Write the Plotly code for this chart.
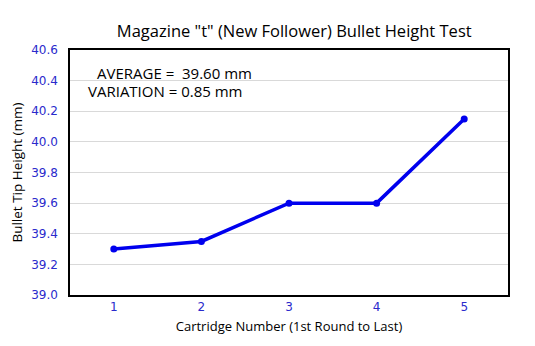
import plotly.graph_objects as go

cartridges = [1, 2, 3, 4, 5]
heights = [39.30, 39.35, 39.60, 39.60, 40.15]
y_ticks = [39.0, 39.2, 39.4, 39.6, 39.8, 40.0, 40.2, 40.4, 40.6]
x_ticks = ["1", "2", "3", "4", "5"]

blue = "#0000EE"
tick_blue = "#2A2ACC"
font = "Open Sans"

fig = go.Figure()
fig.add_trace(go.Scatter(
    x=cartridges, y=heights, mode="lines+markers",
    line=dict(color=blue, width=3.5),
    marker=dict(color=blue, size=7),
    showlegend=False,
))

fig.update_layout(
    width=535, height=346,
    margin=dict(l=70, r=27, t=50, b=51),
    paper_bgcolor="white", plot_bgcolor="white",
    title=dict(text='Magazine "t" (New Follower) Bullet Height Test',
               x=0.55, xanchor="center", y=0.91, yanchor="middle",
               font=dict(family=font, size=16.5, color="black")),
    xaxis=dict(range=[0.5, 5.5], tickvals=cartridges, ticktext=x_ticks,
               automargin=False,
               showgrid=False, zeroline=False, showline=True, mirror=True,
               linecolor="black", linewidth=1.5, ticks="",
               tickfont=dict(family="DejaVu Sans", size=12, color=tick_blue),
               title=dict(text="Cartridge Number (1st Round to Last)",
                          font=dict(family=font, size=13, color="black"),
                          standoff=9)),
    yaxis=dict(range=[39.0, 40.6], tickvals=y_ticks,
               ticktext=[f"{v:.1f}" for v in y_ticks],
               automargin=False,
               showgrid=True, gridcolor="#D9D9D9", gridwidth=1, zeroline=False,
               showline=True, mirror=True, linecolor="black", linewidth=1.5, ticks="",
               tickfont=dict(family="DejaVu Sans", size=12, color=tick_blue),
               ticklabelstandoff=8,
               title=dict(text="Bullet Tip Height (mm)",
                          font=dict(family=font, size=13.5, color="black"),
                          standoff=5)),
)

fig.add_annotation(xref="paper", yref="paper", x=0.058, y=0.905, xanchor="left",
                   yanchor="middle", showarrow=False,
                   text="AVERAGE =  39.60 mm",
                   font=dict(family=font, size=15, color="black"))
fig.add_annotation(xref="paper", yref="paper", x=0.036, y=0.832, xanchor="left",
                   yanchor="middle", showarrow=False,
                   text="VARIATION = 0.85 mm",
                   font=dict(family=font, size=15, color="black"))

fig.write_html("out.html")
